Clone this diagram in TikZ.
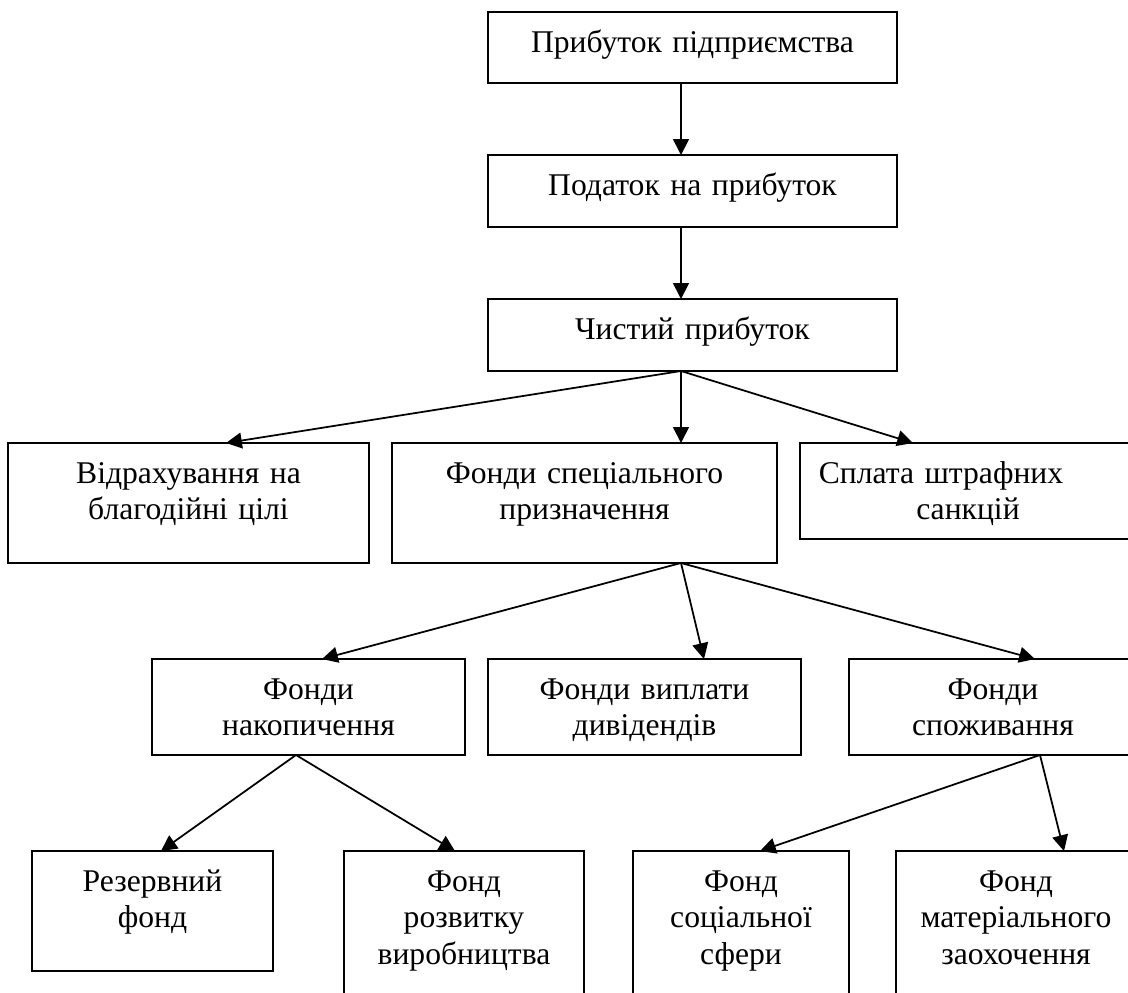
\documentclass[tikz,border=0pt]{standalone}
\usepackage{fontspec}
\setmainfont{Liberation Serif}
\usepackage{tikz}
\usetikzlibrary{arrows.meta}
\tikzset{
	box/.style={draw, line width=1pt, anchor=north, inner sep=0pt, outer sep=0pt,
		align=center, text height=0.8cm, font=\fontsize{18}{20.9}\selectfont},
	arr/.style={-{Triangle[length=9pt, width=9pt]}, line width=1pt}
}

\begin{document}
\begin{tikzpicture}[x=0.02cm, y=-0.02cm]
	\useasboundingbox (0,0) rectangle (1128,992);
	\node[box, text width=8.18cm, text depth=0.62cm] (v1) at (692.5,12) {Прибуток підприємства};
	\node[box, text width=8.18cm, text depth=0.64cm] (v2) at (692.5,155) {Податок на прибуток};
	\node[box, text width=8.18cm, text depth=0.64cm] (v3) at (692.5,299) {Чистий прибуток};
	\node[box, text width=7.22cm, text depth=1.6cm] (v4) at (188.5,443) {Відрахування на\\благодійні цілі};
	\node[box, text width=7.7cm, text depth=1.6cm] (v5) at (584.5,443) {Фонди спеціального\\призначення};
	\node[box, text width=6.72cm, text depth=1.12cm] (v6) at (968,443) {Сплата штрафних\hspace{1.08cm}\mbox{}\\санкцій};
	\node[box, text width=6.26cm, text depth=1.12cm] (v7) at (308.5,659) {Фонди\\накопичення};
	\node[box, text width=6.26cm, text depth=1.12cm] (v8) at (644.5,659) {Фонди виплати\\дивідендів};
	\node[box, text width=5.76cm, text depth=1.12cm] (v9) at (993,659) {Фонди\\споживання};
	\node[box, text width=4.82cm, text depth=1.6cm] (v10) at (152.5,851) {Резервний\\фонд};
	\node[box, text width=4.8cm, text depth=2.4cm] (v11) at (464,851) {Фонд\\розвитку\\виробництва};
	\node[box, text width=4.32cm, text depth=2.4cm] (v12) at (741,851) {Фонд\\соціальної\\сфери};
	\node[box, text width=4.8cm, text depth=2.4cm] (v13) at (1016,851) {Фонд\\матеріального\\заохочення};
	\draw [arr] ([xshift=-0.23cm]v1.south) to ([xshift=-0.23cm]v2.north);
	\draw [arr] ([xshift=-0.23cm]v2.south) to ([xshift=-0.23cm]v3.north);
	\draw [arr] ([xshift=-0.23cm]v3.south) to ([xshift=0.75cm]v4.north);
	\draw [arr] ([xshift=-0.23cm]v3.south) to ([xshift=1.93cm]v5.north);
	\draw [arr] ([xshift=-0.23cm]v3.south) to ([xshift=-1.1cm]v6.north);
	\draw [arr] ([xshift=1.93cm]v5.south) to ([xshift=0.27cm]v7.north);
	\draw [arr] ([xshift=1.93cm]v5.south) to ([xshift=1.19cm]v8.north);
	\draw [arr] ([xshift=1.93cm]v5.south) to ([xshift=0.84cm]v9.north);
	\draw [arr] ([xshift=-0.25cm]v7.south) to ([xshift=0.17cm]v10.north);
	\draw [arr] ([xshift=-0.25cm]v7.south) to ([xshift=-0.18cm]v11.north);
	\draw [arr] ([xshift=0.94cm]v9.south) to ([xshift=0.38cm]v12.north);
	\draw [arr] ([xshift=0.94cm]v9.south) to ([xshift=0.96cm]v13.north);
\end{tikzpicture}
\end{document}
